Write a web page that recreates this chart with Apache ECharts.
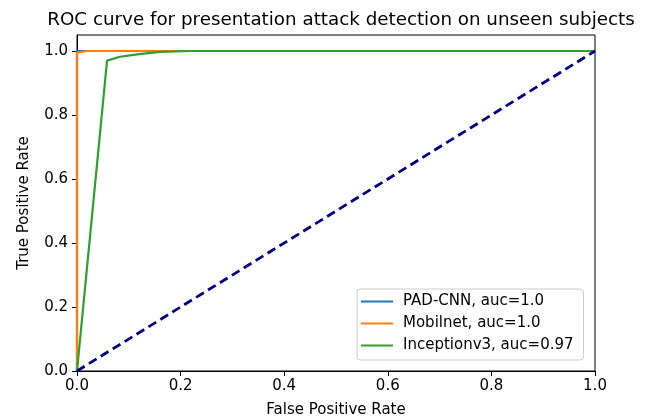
<!DOCTYPE html>
<html>
<head>
<meta charset="utf-8">
<script src="https://cdn.jsdelivr.net/npm/echarts@6/dist/echarts.min.js"></script>
<style>
  html, body { margin: 0; padding: 0; background: #fff; }
  #chart { width: 648px; height: 420px; }
</style>
</head>
<body>
<div id="chart"></div>
<script>
var seriesNames = ['PAD-CNN, auc=1.0', 'Mobilnet, auc=1.0', 'Inceptionv3, auc=0.97'];

var padFpr = [0, 0, 1];
var padTpr = [0, 1, 1];

var mobFpr = [0, 0, 0.02, 1];
var mobTpr = [0, 0.995, 1, 1];

var incFpr = [0, 0.058, 0.083, 0.12, 0.16, 0.22, 1];
var incTpr = [0, 0.97, 0.982, 0.99, 0.997, 1, 1];

var diagFpr = [0, 1];
var diagTpr = [0, 1];

var xTicks = [0, 0.2, 0.4, 0.6, 0.8, 1.0];
var yTicks = [0, 0.2, 0.4, 0.6, 0.8, 1.0];

function pairs(xs, ys) {
	var out = [];
	for (var i = 0; i < xs.length; i++) {
		out.push([xs[i], ys[i]]);
	}
	return out;
}

var font = 'DejaVu Sans';
var chart = echarts.init(document.getElementById('chart'));

function lineSeries(name, xs, ys, color) {
	return {
		name: name,
		type: 'line',
		data: pairs(xs, ys),
		showSymbol: false,
		symbol: 'none',
		lineStyle: { color: color, width: 2.2 },
		itemStyle: { color: color }
	};
}

var option = {
	animation: false,
	title: {
		text: 'ROC curve for presentation attack detection on unseen subjects',
		left: 336,
		textAlign: 'center',
		top: 6,
		textStyle: { fontFamily: font, fontSize: 18.3, fontWeight: 'normal', color: '#000' }
	},
	grid: {
		left: 77, right: 53, top: 35, bottom: 49,
		outerBoundsMode: 'none',
		show: true, borderColor: '#000', borderWidth: 1
	},
	legend: {
		orient: 'vertical',
		left: 357, top: 289,
		data: seriesNames,
		icon: 'rect',
		itemWidth: 32, itemHeight: 2,
		itemGap: 7,
		padding: [5, 10, 7, 4],
		borderColor: '#ccc', borderWidth: 1, borderRadius: 3,
		backgroundColor: 'rgba(255,255,255,0.8)',
		textStyle: { fontFamily: font, fontSize: 15, color: '#000', padding: [0, 0, 0, 5] }
	},
	xAxis: {
		type: 'value', min: 0, max: 1, interval: 0.2,
		name: 'False Positive Rate', nameLocation: 'middle', nameGap: 32,
		nameTextStyle: { fontFamily: font, fontSize: 15, color: '#000' },
		axisLine: { show: true, lineStyle: { color: '#000' } },
		axisTick: { show: true, length: 5, customValues: xTicks, lineStyle: { color: '#000' } },
		axisLabel: { fontFamily: font, fontSize: 15, color: '#000', margin: 8, customValues: xTicks,
			formatter: function (v) { return v.toFixed(1); } },
		splitLine: { show: false }
	},
	yAxis: {
		type: 'value', min: 0, max: 1.05, interval: 0.2,
		name: 'True Positive Rate', nameLocation: 'middle', nameGap: 45,
		nameTextStyle: { fontFamily: font, fontSize: 15, color: '#000' },
		axisLine: { show: true, lineStyle: { color: '#000' } },
		axisTick: { show: true, length: 5, customValues: yTicks, lineStyle: { color: '#000' } },
		axisLabel: { fontFamily: font, fontSize: 15, color: '#000', margin: 9, customValues: yTicks,
			formatter: function (v) { return v.toFixed(1); } },
		splitLine: { show: false }
	},
	series: [
		lineSeries(seriesNames[0], padFpr, padTpr, '#1f77b4'),
		lineSeries(seriesNames[1], mobFpr, mobTpr, '#ff7f0e'),
		lineSeries(seriesNames[2], incFpr, incTpr, '#2ca02c'),
		{
			name: 'chance',
			type: 'line',
			data: pairs(diagFpr, diagTpr),
			showSymbol: false,
			symbol: 'none',
			lineStyle: { color: '#000080', width: 2.8, type: [9, 5] },
			itemStyle: { color: '#000080' }
		}
	]
};

chart.setOption(option);
</script>
</body>
</html>
